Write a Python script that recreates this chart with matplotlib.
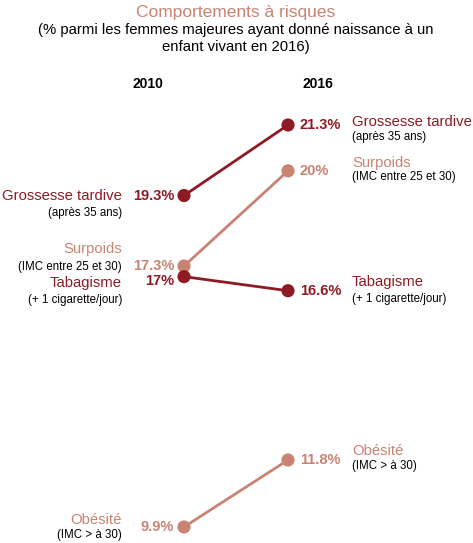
import matplotlib
matplotlib.use("Agg")
import matplotlib.pyplot as plt

plt.rcParams['font.family'] = ['Liberation Sans', 'DejaVu Sans']

years = ["2010", "2016"]
categories = ["Grossesse tardive", "Surpoids", "Tabagisme", "Obésité"]
subtitles = ["(après 35 ans)", "(IMC entre 25 et 30)", "(+ 1 cigarette/jour)", "(IMC > à 30)"]
v2010 = [19.3, 17.3, 17.0, 9.9]
v2016 = [21.3, 20.0, 16.6, 11.8]
labels2010 = ["19.3%", "17.3%", "17%", "9.9%"]
labels2016 = ["21.3%", "20%", "16.6%", "11.8%"]

DARK = "#8E1B24"
LIGHT = "#C98373"
colors = [DARK, LIGHT, DARK, LIGHT]

W, H = 473, 543
fig = plt.figure(figsize=(W/100, H/100), dpi=100)
ax = fig.add_axes([0, 0, 1, 1])
ax.axis('off')
sx = 104.0
sy = (527 - 125) / (21.3 - 9.9)
ax.set_xlim(-184/sx, (W-184)/sx)
ax.set_ylim(21.3 - (H-125)/sy, 21.3 + 125/sy)

def lab(x, v, dx, dy, s, **kw):
    ax.annotate(s, (x, v), xytext=(dx, -dy), textcoords='offset pixels', va='center', **kw)

for i in range(4):
    c = colors[i]
    ax.plot([0, 1], [v2010[i], v2016[i]], color=c, lw=2, zorder=2)
    ax.scatter([0, 1], [v2010[i], v2016[i]], s=90, color=c, zorder=3, edgecolor='none')

left_name_dy = [0, -17, 6, -7]
left_sub_dy = [17, 1, 23, 8]
left_val_dy = [0, 0, 4, 0]
for i in range(4):
    c = colors[i]
    lab(0, v2010[i], -10, left_val_dy[i], labels2010[i], ha='right', color=c, fontsize=10.5, fontweight='bold')
    lab(0, v2010[i], -62, left_name_dy[i], categories[i], ha='right', color=c, fontsize=10.7)
    lab(0, v2010[i], -62, left_sub_dy[i], subtitles[i], ha='right', color='black', fontsize=8.3)

right_name_dy = [-3, -8, -9, -9]
right_sub_dy = [12, 6, 8, 6]
for i in range(4):
    c = colors[i]
    lab(1, v2016[i], 12, 0, labels2016[i], ha='left', color=c, fontsize=10.5, fontweight='bold')
    lab(1, v2016[i], 64, right_name_dy[i], categories[i], ha='left', color=c, fontsize=10.7)
    lab(1, v2016[i], 64, right_sub_dy[i], subtitles[i], ha='left', color='black', fontsize=8.3)

fig.text(236/W, 1-12/H, "Comportements à risques", ha='center', va='center', color=LIGHT, fontsize=12.5)
fig.text(236/W, 1-30/H, "(% parmi les femmes majeures ayant donné naissance à un", ha='center', va='center', color='black', fontsize=10.7)
fig.text(236/W, 1-47/H, "enfant vivant en 2016)", ha='center', va='center', color='black', fontsize=10.7)
fig.text(148/W, 1-84/H, years[0], ha='center', va='center', fontsize=10, fontweight='bold')
fig.text(318/W, 1-84/H, years[1], ha='center', va='center', fontsize=10, fontweight='bold')

fig.savefig("out.png", dpi=100)
